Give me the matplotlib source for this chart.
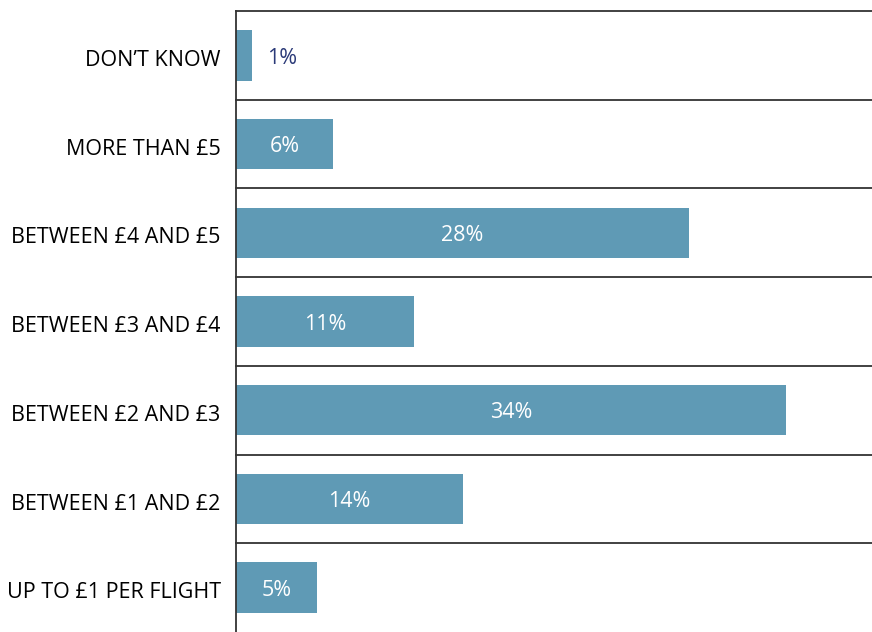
#!/usr/bin/env python3
"""Horizontal bar chart: willingness to pay per flight."""

import matplotlib
matplotlib.use("Agg")
import matplotlib.pyplot as plt

CATEGORIES = [
    "UP TO £1 PER FLIGHT",
    "BETWEEN £1 AND £2",
    "BETWEEN £2 AND £3",
    "BETWEEN £3 AND £4",
    "BETWEEN £4 AND £5",
    "MORE THAN £5",
    "DON’T KNOW",
]
VALUES = [5, 14, 34, 11, 28, 6, 1]

BAR_COLOR = "#5f9ab5"
LINE_COLOR = "#333333"
NAVY = "#2b3a78"

plt.rcParams["font.family"] = ["Open Sans", "DejaVu Sans"]

fig = plt.figure(figsize=(8.72, 6.32), dpi=100)
ax = fig.add_axes([236 / 872, 0.0, 1 - 236 / 872, 1 - 11 / 632])

ypos = list(range(len(CATEGORIES)))
ax.barh(ypos, VALUES, height=0.57, color=BAR_COLOR, zorder=2)

for y, v in zip(ypos, VALUES):
    if v < 3:
        ax.text(v + 0.9, y - 0.03, f"{v}%", ha="left", va="center", fontsize=15.5, color=NAVY)
    else:
        ax.text(v / 2, y - 0.03, f"{v}%", ha="center", va="center", fontsize=15.5, color="white")

for k in range(len(CATEGORIES)):
    ax.axhline(k + 0.5, color=LINE_COLOR, lw=1.3, zorder=1, clip_on=False)

ax.set_xlim(0, 39.3)
ax.set_ylim(-0.5, len(CATEGORIES) - 0.5)
ax.set_yticks([y - 0.03 for y in ypos], CATEGORIES, fontsize=15.5)
ax.tick_params(axis="y", length=0, pad=11)
ax.set_xticks([])
ax.spines[["top", "right", "bottom"]].set_visible(False)
ax.spines["left"].set_color(LINE_COLOR)
ax.spines["left"].set_linewidth(1.3)

fig.savefig("out.png", dpi=100, facecolor="white")
